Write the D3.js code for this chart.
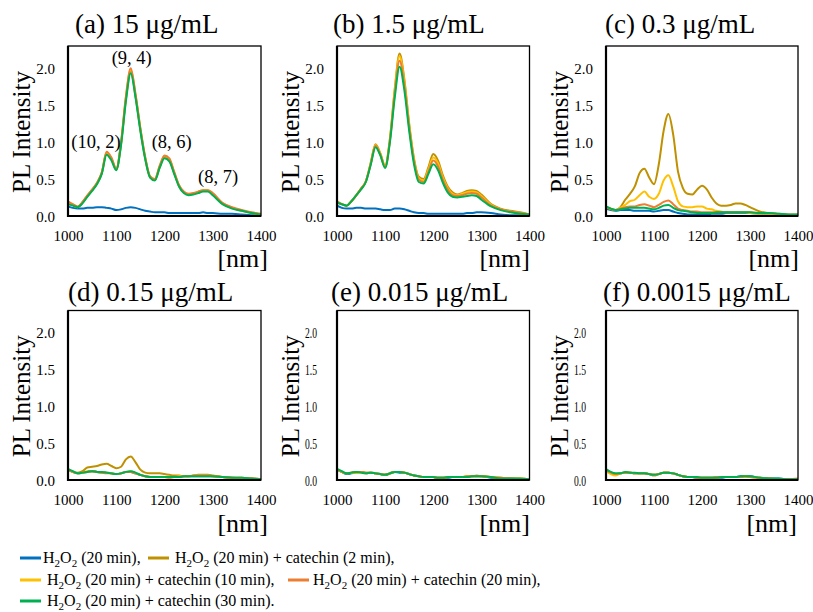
<!DOCTYPE html>
<html><head><meta charset="utf-8">
<script src="https://cdn.jsdelivr.net/npm/d3@7"></script>
<style>
html,body{margin:0;padding:0;background:#fff;}
svg text{font-family:'Liberation Serif','Times New Roman',serif;fill:#000;}
</style></head>
<body><svg id="chart" width="813" height="612"></svg>
<script>
// ---------------- data ----------------
const wavelengths = [1000,1010,1020,1030,1040,1050,1060,1070,1080,1090,
  1100,1110,1120,1130,1140,1150,1160,1170,1180,1190,
  1200,1210,1220,1230,1240,1250,1260,1270,1280,1290,
  1300,1320,1340,1360,1380,1400];

const seriesNames = ["H2O2 (20 min)","+ catechin (2 min)","+ catechin (10 min)","+ catechin (20 min)","+ catechin (30 min)"];
const seriesColors = ["#0070C0","#BF9000","#FFC000","#ED7D31","#00B050"];

const panelTitles = ["(a) 15 μg/mL","(b) 1.5 μg/mL","(c) 0.3 μg/mL","(d) 0.15 μg/mL","(e) 0.015 μg/mL","(f) 0.0015 μg/mL"];
const xTicks = [1000,1100,1200,1300,1400];
const yTicks = [0,0.5,1.0,1.5,2.0];

// panel (a)
const a_blue   = [0.13,0.11,0.10,0.10,0.11,0.11,0.12,0.12,0.11,0.10, 0.08,0.09,0.11,0.12,0.11,0.09,0.07,0.06,0.05,0.05, 0.05,0.04,0.04,0.04,0.04,0.04,0.04,0.04,0.05,0.04, 0.04,0.03,0.03,0.02,0.01,0.01];
const a_gold   = [0.18,0.15,0.12,0.18,0.27,0.35,0.44,0.58,0.85,0.77, 0.63,0.98,1.58,1.96,1.62,1.17,0.78,0.53,0.49,0.66, 0.80,0.76,0.58,0.41,0.32,0.29,0.30,0.32,0.34,0.34, 0.29,0.17,0.11,0.07,0.045,0.02];
const a_yellow = [0.19,0.15,0.12,0.18,0.27,0.35,0.44,0.58,0.86,0.78, 0.63,0.99,1.60,1.98,1.63,1.18,0.79,0.53,0.50,0.67, 0.81,0.77,0.59,0.41,0.32,0.29,0.30,0.33,0.35,0.35, 0.30,0.17,0.11,0.07,0.045,0.02];
const a_orange = [0.20,0.16,0.13,0.19,0.28,0.36,0.45,0.59,0.87,0.79, 0.64,1.00,1.62,2.00,1.65,1.19,0.80,0.54,0.50,0.68, 0.82,0.78,0.60,0.42,0.33,0.30,0.31,0.33,0.35,0.35, 0.31,0.18,0.12,0.08,0.05,0.03];
const a_green  = [0.16,0.14,0.12,0.17,0.26,0.34,0.43,0.57,0.83,0.75, 0.62,0.96,1.55,1.93,1.60,1.15,0.77,0.52,0.48,0.65, 0.78,0.74,0.57,0.40,0.31,0.28,0.29,0.31,0.33,0.33, 0.28,0.16,0.10,0.07,0.04,0.02];

// panel (b)
const b_blue   = [0.14,0.11,0.10,0.10,0.11,0.11,0.10,0.10,0.10,0.09, 0.08,0.08,0.10,0.10,0.09,0.07,0.05,0.04,0.04,0.03, 0.03,0.03,0.03,0.03,0.03,0.03,0.03,0.04,0.04,0.05, 0.05,0.04,0.02,0.01,0.01,0.00];
const b_gold   = [0.20,0.16,0.14,0.20,0.28,0.37,0.47,0.72,0.97,0.85, 0.68,1.05,1.72,2.20,1.85,1.25,0.78,0.53,0.50,0.66, 0.84,0.75,0.55,0.40,0.32,0.29,0.31,0.34,0.35,0.34, 0.29,0.16,0.10,0.07,0.05,0.02];
const b_yellow = [0.19,0.16,0.14,0.20,0.28,0.37,0.47,0.71,0.96,0.84, 0.67,1.04,1.70,2.16,1.82,1.23,0.76,0.51,0.48,0.63, 0.79,0.71,0.52,0.38,0.30,0.28,0.30,0.32,0.33,0.32, 0.27,0.15,0.09,0.06,0.04,0.02];
const b_orange = [0.19,0.16,0.14,0.20,0.28,0.37,0.47,0.70,0.95,0.83, 0.66,1.02,1.66,2.10,1.77,1.20,0.74,0.49,0.46,0.60, 0.75,0.67,0.49,0.36,0.28,0.27,0.28,0.30,0.31,0.30, 0.25,0.14,0.09,0.06,0.04,0.02];
const b_green  = [0.18,0.16,0.14,0.20,0.28,0.36,0.46,0.69,0.93,0.82, 0.65,1.00,1.60,2.02,1.70,1.15,0.70,0.46,0.44,0.57, 0.70,0.62,0.45,0.32,0.26,0.25,0.26,0.27,0.28,0.27, 0.22,0.13,0.08,0.05,0.03,0.02];

// panel (c)
const c_blue   = [0.10,0.08,0.07,0.08,0.08,0.08,0.07,0.07,0.07,0.07, 0.06,0.07,0.08,0.08,0.06,0.04,0.03,0.02,0.02,0.02, 0.02,0.02,0.03,0.03,0.03,0.04,0.04,0.04,0.04,0.04, 0.04,0.03,0.02,0.02,0.01,0.01];
const c_gold   = [0.12,0.09,0.08,0.12,0.22,0.30,0.40,0.58,0.64,0.52, 0.43,0.70,1.15,1.38,1.10,0.60,0.38,0.30,0.29,0.36, 0.41,0.36,0.25,0.17,0.14,0.14,0.15,0.17,0.17,0.15, 0.12,0.06,0.04,0.02,0.01,0.01];
const c_yellow = [0.12,0.10,0.08,0.11,0.15,0.20,0.22,0.28,0.33,0.26, 0.23,0.30,0.48,0.55,0.40,0.20,0.13,0.12,0.12,0.13, 0.13,0.10,0.09,0.07,0.06,0.05,0.05,0.05,0.05,0.05, 0.04,0.03,0.03,0.02,0.01,0.01];
const c_orange = [0.12,0.10,0.08,0.10,0.12,0.13,0.13,0.15,0.16,0.14, 0.12,0.15,0.19,0.21,0.16,0.10,0.08,0.07,0.06,0.06, 0.05,0.05,0.05,0.05,0.05,0.05,0.05,0.05,0.05,0.05, 0.05,0.04,0.04,0.03,0.02,0.02];
const c_green  = [0.13,0.10,0.08,0.09,0.10,0.11,0.11,0.11,0.11,0.10, 0.09,0.11,0.14,0.15,0.11,0.08,0.07,0.06,0.05,0.04, 0.04,0.04,0.04,0.05,0.05,0.05,0.05,0.05,0.05,0.05, 0.05,0.04,0.04,0.03,0.02,0.02];

// panel (d)
const d_blue   = [0.14,0.11,0.09,0.10,0.11,0.12,0.11,0.10,0.10,0.09, 0.08,0.09,0.11,0.11,0.09,0.07,0.05,0.04,0.04,0.04, 0.04,0.04,0.04,0.04,0.05,0.05,0.05,0.05,0.05,0.05, 0.05,0.04,0.03,0.02,0.02,0.01];
const d_gold   = [0.13,0.11,0.10,0.12,0.17,0.18,0.19,0.21,0.22,0.19, 0.16,0.18,0.28,0.32,0.24,0.14,0.10,0.09,0.09,0.09, 0.08,0.07,0.06,0.06,0.05,0.05,0.06,0.07,0.07,0.07, 0.06,0.04,0.03,0.03,0.02,0.01];
const d_yellow = [0.14,0.11,0.09,0.10,0.12,0.12,0.11,0.10,0.10,0.09, 0.08,0.09,0.11,0.12,0.09,0.07,0.05,0.04,0.04,0.04, 0.04,0.04,0.04,0.05,0.05,0.05,0.06,0.06,0.06,0.06, 0.05,0.04,0.03,0.02,0.02,0.01];
const d_orange = [0.14,0.11,0.09,0.10,0.11,0.12,0.11,0.10,0.09,0.09, 0.08,0.09,0.11,0.11,0.09,0.07,0.05,0.04,0.04,0.04, 0.04,0.03,0.04,0.04,0.05,0.05,0.06,0.06,0.06,0.06, 0.05,0.04,0.03,0.03,0.02,0.01];
const d_green  = [0.15,0.12,0.09,0.10,0.11,0.12,0.11,0.11,0.10,0.09, 0.08,0.09,0.11,0.12,0.10,0.07,0.05,0.04,0.04,0.04, 0.04,0.04,0.04,0.04,0.05,0.05,0.05,0.05,0.05,0.05, 0.05,0.04,0.03,0.03,0.02,0.01];

// panel (e)
const e_blue   = [0.14,0.11,0.08,0.09,0.10,0.11,0.09,0.10,0.09,0.08, 0.07,0.09,0.11,0.10,0.10,0.08,0.06,0.05,0.04,0.04, 0.04,0.03,0.03,0.03,0.04,0.04,0.04,0.04,0.05,0.05, 0.05,0.03,0.02,0.02,0.01,0.00];
const e_gold   = [0.14,0.11,0.09,0.10,0.10,0.11,0.10,0.10,0.09,0.08, 0.07,0.09,0.11,0.11,0.10,0.08,0.06,0.05,0.04,0.04, 0.04,0.03,0.03,0.04,0.04,0.04,0.04,0.05,0.05,0.05, 0.05,0.04,0.03,0.02,0.02,0.01];
const e_yellow = [0.14,0.11,0.09,0.10,0.10,0.10,0.09,0.10,0.09,0.08, 0.07,0.09,0.11,0.11,0.10,0.08,0.06,0.05,0.04,0.04, 0.04,0.03,0.03,0.04,0.04,0.04,0.04,0.05,0.05,0.05, 0.05,0.04,0.03,0.02,0.02,0.01];
const e_orange = [0.14,0.11,0.09,0.10,0.11,0.11,0.10,0.10,0.09,0.08, 0.07,0.09,0.11,0.11,0.10,0.08,0.06,0.05,0.04,0.04, 0.04,0.03,0.03,0.04,0.04,0.04,0.04,0.05,0.05,0.06, 0.05,0.04,0.03,0.02,0.01,0.01];
const e_green  = [0.15,0.12,0.09,0.10,0.11,0.10,0.09,0.10,0.09,0.08, 0.07,0.09,0.11,0.11,0.10,0.08,0.06,0.05,0.04,0.04, 0.04,0.03,0.03,0.04,0.04,0.04,0.04,0.04,0.05,0.05, 0.05,0.04,0.02,0.02,0.02,0.01];

// panel (f)
const f_blue   = [0.14,0.10,0.08,0.09,0.10,0.10,0.09,0.09,0.09,0.08, 0.07,0.08,0.10,0.10,0.09,0.07,0.05,0.04,0.04,0.03, 0.03,0.03,0.03,0.03,0.03,0.04,0.04,0.04,0.05,0.05, 0.05,0.03,0.02,0.02,0.01,0.01];
const f_gold   = [0.13,0.09,0.08,0.09,0.10,0.10,0.09,0.09,0.09,0.08, 0.07,0.08,0.10,0.10,0.09,0.07,0.05,0.04,0.04,0.04, 0.03,0.03,0.03,0.04,0.04,0.04,0.04,0.04,0.04,0.05, 0.04,0.03,0.02,0.01,0.01,0.01];
const f_yellow = [0.12,0.08,0.06,0.09,0.10,0.10,0.09,0.09,0.09,0.08, 0.07,0.08,0.10,0.10,0.09,0.07,0.05,0.04,0.04,0.04, 0.03,0.03,0.03,0.03,0.04,0.04,0.04,0.04,0.04,0.04, 0.04,0.03,0.01,0.01,0.01,0.01];
const f_orange = [0.14,0.10,0.08,0.09,0.10,0.10,0.09,0.09,0.09,0.08, 0.06,0.08,0.10,0.10,0.09,0.07,0.05,0.04,0.04,0.03, 0.03,0.03,0.03,0.04,0.04,0.04,0.04,0.04,0.04,0.05, 0.04,0.03,0.02,0.01,0.01,0.02];
const f_green  = [0.15,0.11,0.09,0.09,0.11,0.10,0.10,0.09,0.09,0.08, 0.07,0.08,0.10,0.10,0.09,0.07,0.05,0.04,0.04,0.04, 0.03,0.03,0.03,0.03,0.04,0.04,0.04,0.04,0.05,0.05, 0.05,0.03,0.02,0.02,0.01,0.01];

// chirality annotations in panel (a)
const annoLabels = ["(10, 2)","(9, 4)","(8, 6)","(8, 7)"];
const annoX = [1058,1132,1215,1311];
const annoY = [0.92,2.06,0.92,0.45];

const panelData = [
  [a_blue,a_gold,a_yellow,a_orange,a_green],
  [b_blue,b_gold,b_yellow,b_orange,b_green],
  [c_blue,c_gold,c_yellow,c_orange,c_green],
  [d_blue,d_gold,d_yellow,d_orange,d_green],
  [e_blue,e_gold,e_yellow,e_orange,e_green],
  [f_blue,f_gold,f_yellow,f_orange,f_green]
];

// ---------------- layout ----------------
const colLeft  = [68, 337, 606];
const colRight = [261, 529.5, 798];
const rowTop   = [46, 310.5];
const rowBot   = [216, 480];
const titleX   = [75, 333, 605, 68, 331, 603];
const titleDy  = [-13, -9.5];
const nmRight  = [268, 530, 799, 268, 530, 797];
const nmBase   = [267, 532];
const FONT = "'Liberation Serif','Times New Roman',serif";

const svg = d3.select("#chart");

panelData.forEach((series, i) => {
  const col = i % 3, row = Math.floor(i / 3);
  const x = d3.scaleLinear().domain([1000,1400]).range([colLeft[col], colRight[col]]);
  const y = d3.scaleLinear().domain([0,2.3]).range([rowBot[row], rowTop[row]]);
  const g = svg.append("g");

  const clipId = "clip" + i;
  svg.append("clipPath").attr("id", clipId).append("rect")
    .attr("x", colLeft[col]).attr("y", rowTop[row])
    .attr("width", colRight[col]-colLeft[col]).attr("height", rowBot[row]-rowTop[row]);
  const line = d3.line().x((d,k)=>x(wavelengths[k])).y(d=>y(d)).curve(d3.curveMonotoneX);
  const lg = g.append("g").attr("clip-path", `url(#${clipId})`);
  series.forEach((vals, s) => {
    lg.append("path").attr("d", line(vals.slice(0, wavelengths.length)))
      .attr("fill","none").attr("stroke", seriesColors[s]).attr("stroke-width", 2)
      .attr("stroke-linejoin","round");
  });

  // frame
  g.append("rect").attr("x", colLeft[col]).attr("y", rowTop[row])
    .attr("width", colRight[col]-colLeft[col]).attr("height", rowBot[row]-rowTop[row])
    .attr("fill","none").attr("stroke","#000").attr("stroke-width",1.3);
  g.append("line").attr("x1", colLeft[col]).attr("x2", colLeft[col])
    .attr("y1", rowTop[row]).attr("y2", rowBot[row]+1).attr("stroke","#000").attr("stroke-width",2.2);
  g.append("line").attr("x1", colLeft[col]-1).attr("x2", colRight[col])
    .attr("y1", rowBot[row]).attr("y2", rowBot[row]).attr("stroke","#000").attr("stroke-width",2.2);

  // x axis labels
  const xa = g.append("g").attr("transform", `translate(0,${rowBot[row]})`)
    .call(d3.axisBottom(x).tickValues(xTicks).tickSize(0).tickPadding(0).tickFormat(d3.format("d")));
  xa.select(".domain").remove();
  xa.selectAll("text").attr("y", 24.5).attr("dy", 0).attr("font-size", 15).attr("font-family", FONT).attr("fill","#000");

  // y axis labels
  const squeeze = (i === 4 || i === 5);
  const ya = g.append("g").attr("transform", `translate(${colLeft[col]},0)`)
    .call(d3.axisLeft(y).tickValues(yTicks).tickSize(0).tickPadding(0).tickFormat(d3.format(".1f")));
  ya.select(".domain").remove();
  if (!squeeze) {
    ya.selectAll("text").attr("x", -13).attr("dy", "0.35em").attr("font-size", 15).attr("font-family", FONT).attr("fill","#000");
  } else {
    ya.selectAll("text").attr("x", null).attr("text-anchor","start")
      .attr("transform", "translate(-32,0) scale(0.64,1)")
      .attr("dy", "0.35em").attr("font-size", 15).attr("font-family", FONT).attr("fill","#000");
  }

  // y label
  const cy = (rowTop[row] + rowBot[row]) / 2 + 1;
  g.append("text").attr("transform", `translate(${colLeft[col]-38},${cy}) rotate(-90)`)
    .attr("text-anchor","middle").attr("font-size", 25).text("PL Intensity");

  // title
  g.append("text").attr("x", titleX[i]).attr("y", rowTop[row] + titleDy[row])
    .attr("font-size", 27).text(panelTitles[i]);

  // [nm]
  g.append("text").attr("x", nmRight[i]).attr("y", nmBase[row]).attr("text-anchor","end")
    .attr("font-size", 26).text("[nm]");

  if (i === 0) {
    annoLabels.forEach((t, k) => {
      g.append("text").attr("x", x(annoX[k])).attr("y", y(annoY[k]))
        .attr("text-anchor","middle").attr("font-size", 18.5).text(t);
    });
  }
});

// ---------------- legend ----------------
const legendItems = [
  {s:0, lx:20, ly:558, tx:43, suffix:" (20 min),"},
  {s:1, lx:148, ly:558, tx:175, suffix:" (20 min) + catechin (2 min),"},
  {s:2, lx:20, ly:580, tx:47, suffix:" (20 min) + catechin (10 min),"},
  {s:3, lx:288, ly:580, tx:313, suffix:" (20 min) + catechin (20 min),"},
  {s:4, lx:20, ly:601, tx:47, suffix:" (20 min) + catechin (30 min)."}
];
const leg = svg.append("g");
legendItems.forEach(it => {
  leg.append("line").attr("x1", it.lx).attr("x2", it.lx+21).attr("y1", it.ly).attr("y2", it.ly)
    .attr("stroke", seriesColors[it.s]).attr("stroke-width", 3);
  const t = leg.append("text").attr("x", it.tx).attr("y", it.ly + 5).attr("font-size", 16);
  t.append("tspan").text("H");
  t.append("tspan").attr("dy", 3.5).attr("font-size", 11).text("2");
  t.append("tspan").attr("dy", -3.5).text("O");
  t.append("tspan").attr("dy", 3.5).attr("font-size", 11).text("2");
  t.append("tspan").attr("dy", -3.5).text(it.suffix);
});
</script>
</body></html>
